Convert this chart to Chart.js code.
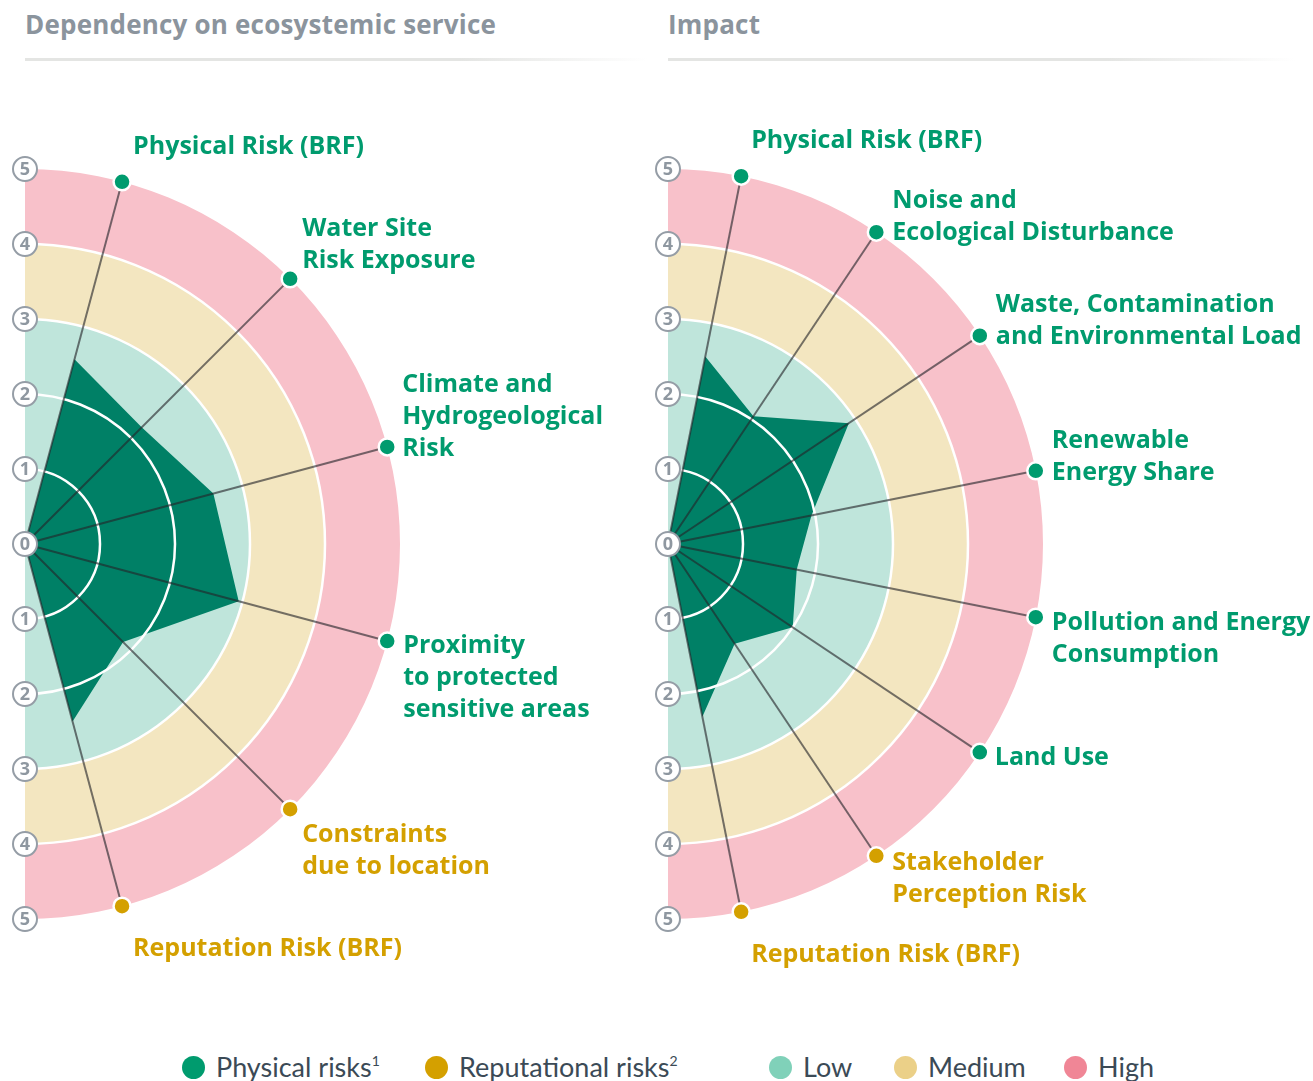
<!DOCTYPE html>
<html>
<head>
<meta charset="utf-8">
<script src="https://cdn.jsdelivr.net/npm/chart.js@4.4.0/dist/chart.umd.min.js"></script>
<style>
  body { margin: 0; width: 1313px; height: 1081px; position: relative; overflow: hidden; background: #fff; font-family: 'Open Sans', sans-serif; }
  .title { position: absolute; top: 6px; font: 700 26px 'Open Sans', sans-serif; color: #8b949d; white-space: nowrap; letter-spacing: 0.2px; }
  .rule { position: absolute; top: 58px; height: 3px; background: linear-gradient(to right, #e4e5e3 70%, rgba(228,229,227,0)); }
  .panel { position: absolute; top: 0; height: 1000px; overflow: hidden; }
  .panel canvas { position: absolute; }
  .legend-item { position: absolute; top: 1050px; font: 400 27px Lato, sans-serif; color: #3b4a56; white-space: nowrap; line-height: 34px; }
  .legend-item .dot { position: absolute; top: 6px; width: 23px; height: 23px; border-radius: 50%; }
  .legend-item sup { font-size: 14px; vertical-align: 11px; line-height: 0; }
</style>
</head>
<body>
<div class="title" style="left:25px">Dependency on ecosystemic service</div>
<div class="rule" style="left:25px;width:622px"></div>
<div class="title" style="left:668px">Impact</div>
<div class="rule" style="left:668px;width:627px"></div>

<div class="panel" style="left:0;width:650px"><canvas id="dependency" width="1210" height="870" style="left:-580px;top:109px"></canvas></div>
<div class="panel" style="left:645px;width:668px"><canvas id="impact" width="1320" height="870" style="left:-637px;top:109px"></canvas></div>

<div id="legend"></div>

<script>
// --- data ---
const dependencyCategories = [
    ['Physical Risk (BRF)'],
    ['Water Site', 'Risk Exposure'],
    ['Climate and', 'Hydrogeological', 'Risk'],
    ['Proximity', 'to protected', 'sensitive areas'],
    ['Constraints', 'due to location'],
    ['Reputation Risk (BRF)']
];
const dependencyTypes = ['physical', 'physical', 'physical', 'physical', 'reputational', 'reputational'];
const dependencyValues = [2.55, 2.2, 2.6, 2.95, 1.85, 2.45];

const impactCategories = [
    ['Physical Risk (BRF)'],
    ['Noise and', 'Ecological Disturbance'],
    ['Waste, Contamination', 'and Environmental Load'],
    ['Renewable', 'Energy Share'],
    ['Pollution and Energy', 'Consumption'],
    ['Land Use'],
    ['Stakeholder', 'Perception Risk'],
    ['Reputation Risk (BRF)']
];
const impactTypes = ['physical', 'physical', 'physical', 'physical', 'physical', 'physical', 'reputational', 'reputational'];
const impactValues = [2.55, 2.05, 2.9, 1.95, 1.75, 2.0, 1.6, 2.35];

const ringTicks = [0, 1, 2, 3, 4, 5];
const levelNames = ['Low', 'Medium', 'High'];
const levelBounds = [0, 3, 4, 5];
const riskNames = { physical: ['Physical risks', '1'], reputational: ['Reputational risks', '2'] };

// --- styles ---
const levelColors = ['#bfe5db', '#f3e6c0', '#f8c1ca'];
const levelLegendColors = ['#80d1b9', '#ebd088', '#f08696'];
const typeColors = { physical: '#009b6e', reputational: '#d4a000' };
const polygonColor = '#008066';
const axisColor = 'rgba(35,35,40,0.62)';
const labelFont = "700 25px 'Open Sans'";
const lineGap = 32;

// label offsets from the outer dot (first line baseline)
const dependencyLabelDx = [11, 12, 15, 16, 12, 11];
const dependencyLabelDy = [-28, -43, -55, 12, 33, 50];
const impactLabelDx = [10, 16, 16, 16, 16, 15, 16, 10];
const impactLabelDy = [-28, -24, -24, -23, 13, 13, 14, 50];

const halfRadar = {
    id: 'halfRadar',
    beforeDatasetsDraw(chart) {
        const s = chart.scales.r, ctx = chart.ctx;
        ctx.save();
        for (let i = 0; i < levelNames.length; i++) {
            const r0 = s.getDistanceFromCenterForValue(levelBounds[i]);
            const r1 = s.getDistanceFromCenterForValue(levelBounds[i + 1]);
            ctx.beginPath();
            ctx.arc(s.xCenter, s.yCenter, r1, -Math.PI / 2, Math.PI / 2);
            ctx.arc(s.xCenter, s.yCenter, r0, Math.PI / 2, -Math.PI / 2, true);
            ctx.closePath();
            ctx.fillStyle = levelColors[i];
            ctx.fill();
        }
        ctx.restore();
    },
    beforeDatasetDraw(chart, args) {
        if (args.index !== 1) return;
        // white rings + axis lines go over the filled shape but under the dots
        const s = chart.scales.r, ctx = chart.ctx;
        ctx.save();
        ctx.strokeStyle = '#fff';
        ctx.lineWidth = 2.5;
        ringTicks.slice(1, -1).forEach(v => {
            ctx.beginPath();
            ctx.arc(s.xCenter, s.yCenter, s.getDistanceFromCenterForValue(v), -Math.PI / 2, Math.PI / 2);
            ctx.stroke();
        });
        ctx.strokeStyle = axisColor;
        ctx.lineWidth = 2;
        chart.data.labels.forEach((lab, i) => {
            if (!lab) return;
            const p = s.getPointPositionForValue(i, s.max);
            ctx.beginPath();
            ctx.moveTo(s.xCenter, s.yCenter);
            ctx.lineTo(p.x, p.y);
            ctx.stroke();
        });
        ctx.restore();
    },
    afterDraw(chart, args, opts) {
        const s = chart.scales.r, ctx = chart.ctx;
        ctx.save();
        // value badges along the vertical axis
        ringTicks.forEach(v => {
            const d = s.getDistanceFromCenterForValue(v);
            const ys = v === 0 ? [s.yCenter] : [s.yCenter - d, s.yCenter + d];
            ys.forEach(y => {
                ctx.beginPath();
                ctx.arc(s.xCenter, y, 12, 0, Math.PI * 2);
                ctx.fillStyle = '#fff';
                ctx.fill();
                ctx.lineWidth = 2;
                ctx.strokeStyle = '#959da6';
                ctx.stroke();
                ctx.fillStyle = '#8e97a0';
                ctx.font = "700 18px 'Open Sans'";
                ctx.textAlign = 'center';
                ctx.textBaseline = 'middle';
                ctx.fillText(String(v), s.xCenter, y + 1);
            });
        });
        // category labels
        ctx.font = labelFont;
        ctx.textAlign = 'left';
        ctx.textBaseline = 'alphabetic';
        chart.data.labels.forEach((lines, i) => {
            if (!lines) return;
            const p = s.getPointPositionForValue(i, s.max);
            ctx.fillStyle = typeColors[opts.types[i]];
            lines.forEach((line, j) => {
                ctx.fillText(line, p.x + opts.dx[i], p.y + opts.dy[i] + j * lineGap);
            });
        });
        ctx.restore();
    }
};

function halfRadarChart(id, categories, values, types, dx, dy, padX) {
    const n = categories.length;
    const blanks = new Array(n).fill('');
    const maxVal = ringTicks[ringTicks.length - 1];
    return new Chart(document.getElementById(id), {
        type: 'radar',
        data: {
            labels: categories.concat(blanks),
            datasets: [{
                data: values.concat(new Array(n).fill(0)),
                backgroundColor: polygonColor,
                borderWidth: 0,
                fill: true,
                pointRadius: 0,
                order: 1
            }, {
                data: values.map(() => maxVal).concat(new Array(n).fill(null)),
                showLine: false,
                fill: false,
                backgroundColor: 'rgba(0,0,0,0)',
                borderColor: 'rgba(0,0,0,0)',
                borderWidth: 0,
                pointRadius: 8.5,
                pointBorderWidth: 2.5,
                pointBorderColor: '#fff',
                pointBackgroundColor: types.map(t => typeColors[t]),
                clip: false,
                order: 0
            }]
        },
        options: {
            responsive: false,
            animation: false,
            events: [],
            layout: { padding: { left: padX, right: padX, top: 60, bottom: 60 } },
            plugins: {
                legend: { display: false },
                tooltip: { enabled: false },
                halfRadar: { types: types, dx: dx, dy: dy }
            },
            scales: {
                r: {
                    min: 0,
                    max: maxVal,
                    startAngle: 90 / n,
                    ticks: { display: false, stepSize: 1 },
                    grid: { display: false },
                    angleLines: { display: false },
                    pointLabels: { display: false }
                }
            }
        },
        plugins: [halfRadar]
    });
}

halfRadarChart('dependency', dependencyCategories, dependencyValues, dependencyTypes, dependencyLabelDx, dependencyLabelDy, 230);
halfRadarChart('impact', impactCategories, impactValues, impactTypes, impactLabelDx, impactLabelDy, 285);

// legend
const legend = document.getElementById('legend');
const legendItems = [
    { text: riskNames.physical, color: typeColors.physical, left: 182 },
    { text: riskNames.reputational, color: typeColors.reputational, left: 425 },
    { text: [levelNames[0]], color: levelLegendColors[0], left: 769 },
    { text: [levelNames[1]], color: levelLegendColors[1], left: 894 },
    { text: [levelNames[2]], color: levelLegendColors[2], left: 1064 }
];
legendItems.forEach(item => {
    const el = document.createElement('div');
    el.className = 'legend-item';
    el.style.left = item.left + 'px';
    el.style.paddingLeft = '34px';
    el.innerHTML = '<span class="dot" style="left:0;background:' + item.color + '"></span>' +
        item.text[0] + (item.text[1] ? '<sup>' + item.text[1] + '</sup>' : '');
    legend.appendChild(el);
});
</script>
</body>
</html>
